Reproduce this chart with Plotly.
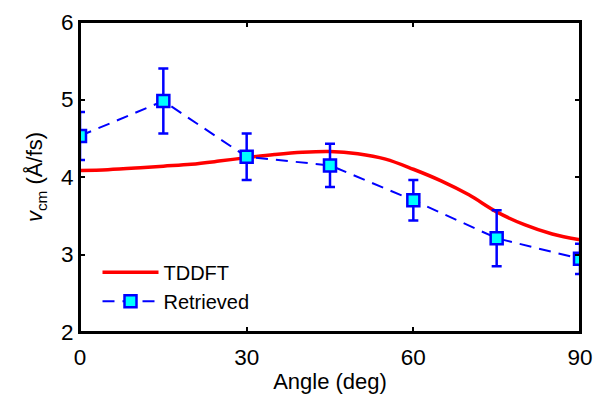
import plotly.graph_objects as go

# TDDFT curve
tddft_angle = [0, 5, 10, 15, 20, 25, 30, 35, 40, 45, 50, 55, 60, 65, 70, 75, 80, 85, 90]
tddft_v = [4.085, 4.095, 4.115, 4.14, 4.165, 4.205, 4.25, 4.29, 4.32, 4.33, 4.30, 4.23, 4.10, 3.95, 3.77, 3.55, 3.385, 3.265, 3.19]

# Retrieved data
ret_angle = [0, 15, 30, 45, 60, 75, 90]
ret_v = [4.53, 4.98, 4.26, 4.15, 3.70, 3.21, 2.945]
ret_err = [0.31, 0.42, 0.30, 0.28, 0.26, 0.36, 0.195]

x_ticks = [0, 30, 60, 90]
y_ticks = [2, 3, 4, 5, 6]

fig = go.Figure()
fig.add_trace(go.Scatter(
    x=tddft_angle, y=tddft_v, mode="lines", name="TDDFT",
    line=dict(color="#ff0000", width=3.5, shape="spline"),
))
fig.add_trace(go.Scatter(
    x=ret_angle, y=ret_v, mode="lines+markers", name="Retrieved",
    line=dict(color="#0000ff", width=2, dash="12px,8px"),
    marker=dict(symbol="square", size=12, color="#00ffff",
                line=dict(color="#0000ff", width=2.5)),
    error_y=dict(type="data", array=ret_err, visible=True,
                 color="#0000ff", thickness=2.5, width=5),
))

font = "Liberation Sans, Arial, sans-serif"
axis_common = dict(
    showline=True, linecolor="black", linewidth=2, mirror="allticks",
    ticks="inside", ticklen=5, tickwidth=1.5, tickcolor="black",
    showgrid=False, zeroline=False, automargin=False,
    ticklabeloverflow="allow",
    tickfont=dict(family=font, size=22.5, color="black"),
)
# page body has an 8px offset; size the figure so page fits the 607x402 window exactly
fig.update_layout(
    width=591, height=386,
    margin=dict(l=72, r=19, t=14, b=62),
    paper_bgcolor="white", plot_bgcolor="white",
    font=dict(family=font, color="black"),
    modebar=dict(bgcolor="rgba(0,0,0,0)", color="rgba(0,0,0,0)",
                 activecolor="rgba(0,0,0,0)"),
    xaxis=dict(range=[0, 90], tickvals=x_ticks, ticklabelstandoff=4,
               title=dict(text="Angle (deg)", font=dict(size=22), standoff=14),
               **axis_common),
    yaxis=dict(range=[2, 6], tickvals=y_ticks,
               title=dict(text="<i>v</i><sub>cm</sub> (Å/fs)", font=dict(size=22), standoff=12),
               **axis_common),
    showlegend=True,
    legend=dict(x=0.035, y=0.256, xanchor="left", yanchor="top",
                bgcolor="rgba(0,0,0,0)", font=dict(size=20, family=font),
                itemwidth=56, tracegroupgap=0),
    shapes=[dict(type="rect", xref="paper", yref="paper", x0=0, x1=1, y0=0, y1=1,
                 line=dict(color="black", width=2), layer="above")],
)

fig.write_html("out.html")
